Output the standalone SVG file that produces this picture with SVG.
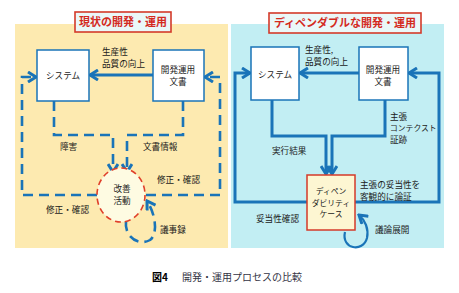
<svg xmlns="http://www.w3.org/2000/svg" width="459" height="293" viewBox="0 0 459 293">
<style>
text{font-family:"Noto Sans CJK JP","Noto Sans",sans-serif;font-size:8.6px;fill:#1a1a1a;}
.c{text-anchor:middle;}
.sm{font-size:7.8px;}
.ttl{font-size:11px;font-weight:bold;fill:#d42a1e;text-anchor:middle;}
.tbox{fill:#eaf7f8;stroke:#d43a2a;stroke-width:1.6;}
.node{fill:#ffffff;stroke:#1a74b8;stroke-width:1.5;}
.solid{fill:none;stroke:#1a74b8;stroke-width:3;}
.thin{fill:none;stroke:#1a74b8;stroke-width:2.2;}
.dash{fill:none;stroke:#1a74b8;stroke-width:2.6;stroke-dasharray:10 6;}
.cap{font-size:10px;fill:#333344;}
</style>
<defs>
<marker id="chev" viewBox="0 0 12 12" refX="10" refY="6" markerWidth="12" markerHeight="12" markerUnits="userSpaceOnUse" orient="auto">
<path d="M2,1 L10,6 L2,11" fill="none" stroke="#1a74b8" stroke-width="3" stroke-dasharray="none"/>
</marker>
</defs>
<rect x="15" y="24" width="213" height="224" fill="#fdeab0"/>
<rect x="231" y="24" width="213" height="224" fill="#c2eef3"/>
<g id="title-left"><rect class="tbox" x="75" y="12" width="96" height="20"/><text class="ttl" x="123" y="26">現状の開発・運用</text></g>
<g id="title-right"><rect class="tbox" x="269" y="13" width="152" height="20"/><text class="ttl" x="345" y="27">ディペンダブルな開発・運用</text></g>
<g id="connectors">
<line class="solid" x1="153" y1="75" x2="90" y2="75" marker-end="url(#chev)"/>
<path class="dash" d="M97,195 L22,195 L22,77 L36,77" marker-end="url(#chev)"/>
<path class="dash" d="M146,195 L220,195 L220,77 L205,77" marker-end="url(#chev)"/>
<path class="dash" d="M54,101 L54,135 L113,135 L113,172" marker-end="url(#chev)"/>
<path class="dash" d="M183,101 L183,135 L127,135 L127,172" marker-end="url(#chev)"/>
<path class="dash" d="M126,221 C124,238 140,246 150,240 C158,234 156,215 147,201" marker-end="url(#chev)"/>
<line class="solid" x1="359" y1="73" x2="300" y2="73" marker-end="url(#chev)"/>
<path class="solid" d="M307,202 L235,202 L235,73 L250,73" marker-end="url(#chev)"/>
<path class="solid" d="M355,202 L439,202 L439,73 L409,73" marker-end="url(#chev)"/>
<path class="solid" d="M272,100 L272,136 L326,136 L326,174" marker-end="url(#chev)"/>
<path class="solid" d="M385,100 L385,136 L332,136 L332,174" marker-end="url(#chev)"/>
<path class="thin" d="M345,232 C341,249 363,253 367,238 C369,229 365,220 359,215" marker-end="url(#chev)"/>
</g>
<g id="l-system"><rect class="node" x="37" y="50" width="52" height="51"/><text class="c" x="63" y="79">システム</text></g>
<g id="l-doc"><rect class="node" x="153" y="50" width="51" height="51"/><text class="c" x="178" y="73">開発運用</text><text class="c" x="178" y="85">文書</text></g>
<g id="l-kaizen"><ellipse cx="121" cy="195" rx="24" ry="27" fill="#fefbe2" stroke="#e0402a" stroke-width="1.6" stroke-dasharray="6 4"/><text class="c" x="122" y="192">改善</text><text class="c" x="122" y="204">活動</text></g>
<g id="r-system"><rect class="node" x="251" y="47" width="48" height="53"/><text class="c" x="275" y="78">システム</text></g>
<g id="r-doc"><rect class="node" x="359" y="47" width="49" height="53"/><text class="c" x="383" y="73">開発運用</text><text class="c" x="383" y="85">文書</text></g>
<g id="r-case"><rect x="307" y="175" width="48" height="55" fill="#fdf6d2" stroke="#d43a2a" stroke-width="1.5"/><text class="c sm" x="331" y="194">ディペン</text><text class="c sm" x="331" y="205.5">ダビリティ</text><text class="c sm" x="331" y="217">ケース</text></g>
<g id="labels">
<text x="102" y="55">生産性</text><text x="102" y="67">品質の向上</text>
<text x="60" y="150">障害</text>
<text x="143" y="150">文書情報</text>
<text x="157" y="183">修正・確認</text>
<text x="46" y="213">修正・確認</text>
<text x="160" y="233">議事録</text>
<text x="305" y="53">生産性,</text><text x="305" y="65">品質の向上</text>
<text x="390" y="120">主張</text><text class="sm" x="390" y="131">コンテクスト</text><text x="390" y="143">証跡</text>
<text x="272" y="154">実行結果</text>
<text x="360" y="188">主張の妥当性を</text><text x="360" y="200">客観的に論証</text>
<text x="256" y="222">妥当性確認</text>
<text x="375" y="233">議論展開</text>
</g>
<g id="caption"><text class="cap" x="152" y="281" style="fill:#000;font-weight:bold">図4</text><text class="cap" x="182" y="281">開発・運用プロセスの比較</text></g>
</svg>
